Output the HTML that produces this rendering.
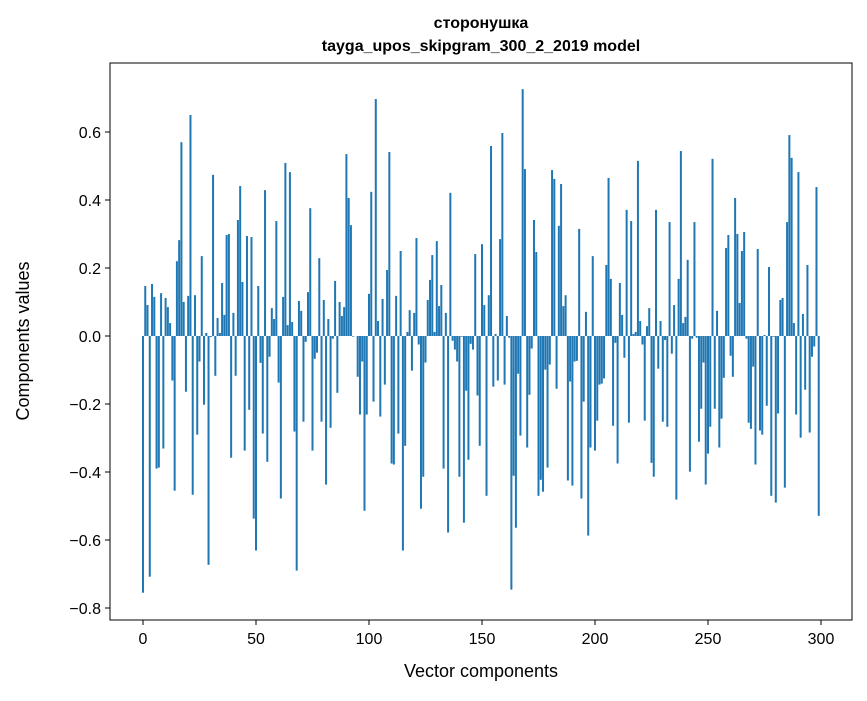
<!DOCTYPE html>
<html><head><meta charset="utf-8">
<style>
body{margin:0;background:#fff;}
svg text{font-family:"Liberation Sans","DejaVu Sans",sans-serif;fill:#000;}
</style></head>
<body>
<svg id="chart" width="867" height="696" xmlns="http://www.w3.org/2000/svg">
<rect width="867" height="696" fill="#fff"/>
<text x="481" y="28" font-size="16" font-weight="bold" text-anchor="middle">сторонушка</text>
<text x="481" y="51" font-size="16" font-weight="bold" text-anchor="middle">tayga_upos_skipgram_300_2_2019 model</text>
<g id="bars"></g>
<g id="axes"></g>
<rect x="110" y="63" width="742" height="557" fill="none" stroke="#000" stroke-width="1"/>
<text x="481" y="677" font-size="18" text-anchor="middle">Vector components</text>
<text transform="translate(29,341) rotate(-90)" font-size="18" text-anchor="middle">Components values</text>
</svg>
<script>
const values = [-0.755,0.147,0.091,-0.708,0.153,0.115,-0.39,-0.387,0.126,-0.331,
0.112,0.085,0.038,-0.131,-0.455,0.22,0.282,0.57,0.1,-0.164,
0.118,0.65,-0.467,0.12,-0.29,-0.075,0.235,-0.202,0.009,-0.673,
-0.003,0.474,-0.117,0.053,0.009,0.156,0.062,0.297,0.3,-0.358,
0.068,-0.117,0.341,0.441,0.159,-0.337,0.294,-0.217,0.291,-0.537,
-0.631,0.147,-0.079,-0.287,0.429,-0.37,-0.061,0.082,0.05,0.338,
-0.137,-0.478,0.115,0.509,0.032,0.482,0.041,-0.281,-0.69,0.103,
0.074,-0.252,-0.017,0.129,0.376,-0.337,-0.067,-0.049,0.229,-0.252,
0.106,-0.437,0.05,-0.27,-0.008,0.162,-0.167,0.1,0.059,0.085,
0.535,0.406,0.326,-0.002,0,-0.12,-0.231,-0.075,-0.514,-0.231,
0.124,0.424,-0.193,0.697,0.044,-0.237,0.109,-0.143,0.194,0.541,
-0.375,-0.378,0.118,-0.287,0.25,-0.631,-0.323,0.012,0.076,-0.102,
0.068,0.288,-0.025,-0.508,-0.414,-0.078,0.106,0.165,0.238,0.012,
0.279,0.088,0.15,-0.39,0.068,-0.578,0.421,-0.014,-0.04,-0.075,
-0.414,-0.002,-0.549,-0.161,-0.364,-0.023,-0.04,0.241,-0.175,-0.323,
0.27,0.091,-0.47,0.12,0.559,-0.149,0.006,-0.131,0.285,0.597,
-0.143,0.059,-0.005,-0.746,-0.411,-0.564,-0.111,-0.293,0.726,0.491,
-0.328,-0.173,-0.037,0.341,0.247,-0.47,-0.423,-0.458,-0.099,-0.387,
-0.084,0.488,0.462,-0.155,0.324,0.447,0.088,0.12,-0.425,-0.134,
-0.44,-0.075,-0.073,0.315,-0.478,-0.193,0.071,-0.587,-0.328,0.235,
-0.337,-0.249,-0.143,-0.14,-0.125,0.209,0.465,0.168,-0.264,-0.02,
-0.375,0.156,0.062,-0.064,0.371,-0.255,0.338,0.006,0.012,0.515,
0.044,-0.025,-0.249,0.029,0.082,-0.373,-0.414,0.371,-0.096,0.044,
-0.252,-0.012,-0.267,0.335,-0.052,0.091,-0.481,0.168,0.544,0.038,
0.056,0.224,-0.399,-0.008,0.335,-0.005,-0.311,-0.214,-0.078,-0.437,
-0.346,-0.267,0.521,-0.214,0.074,-0.328,-0.243,-0.123,0.259,0.297,
-0.058,-0.12,0.406,0.3,0.097,0.25,0.306,-0.008,-0.255,-0.273,
-0.09,-0.378,0.256,-0.278,-0.29,0.003,-0.205,0.203,-0.47,-0.002,
-0.49,-0.228,0.106,0.112,-0.446,0.335,0.591,0.524,0.038,-0.231,
0.482,-0.299,0.065,-0.158,0.209,-0.284,-0.061,-0.031,0.438,-0.529];
const xTicks = [0,50,100,150,200,250,300];
const yTicks = [-0.8,-0.6,-0.4,-0.2,0.0,0.2,0.4,0.6];
const yTickLabels = ["\u22120.8","\u22120.6","\u22120.4","\u22120.2","0.0","0.2","0.4","0.6"];

const NS="http://www.w3.org/2000/svg";
function xs(v){return 143+v*2.26;}
function ys(v){return 336-v*340;}
const bars=document.getElementById('bars');
values.forEach((v,i)=>{
  const r=document.createElementNS(NS,'rect');
  const y0=ys(0), y1=ys(v);
  r.setAttribute('x',xs(i)-1);
  r.setAttribute('width',2);
  r.setAttribute('y',Math.min(y0,y1));
  r.setAttribute('height',Math.max(Math.abs(y1-y0),0.01));
  r.setAttribute('fill','#1f77b4');
  
  
  bars.appendChild(r);
});
const axes=document.getElementById('axes');
xTicks.forEach(t=>{
  const l=document.createElementNS(NS,'line');
  l.setAttribute('x1',xs(t));l.setAttribute('x2',xs(t));
  l.setAttribute('y1',620);l.setAttribute('y2',625);
  l.setAttribute('stroke','#000');
  
  
  axes.appendChild(l);
  const tx=document.createElementNS(NS,'text');
  tx.setAttribute('x',xs(t));tx.setAttribute('y',644);
  tx.setAttribute('font-size','16');tx.setAttribute('text-anchor','middle');
  tx.textContent=String(t);
  
  
  axes.appendChild(tx);
});
yTicks.forEach((t,k)=>{
  const l=document.createElementNS(NS,'line');
  l.setAttribute('x1',105);l.setAttribute('x2',110);
  l.setAttribute('y1',ys(t));l.setAttribute('y2',ys(t));
  l.setAttribute('stroke','#000');
  
  
  axes.appendChild(l);
  const tx=document.createElementNS(NS,'text');
  tx.setAttribute('x',101);tx.setAttribute('y',ys(t)+6);
  tx.setAttribute('font-size','16');tx.setAttribute('text-anchor','end');
  tx.textContent=yTickLabels[k];
  
  
  axes.appendChild(tx);
});
</script>
</body></html>
